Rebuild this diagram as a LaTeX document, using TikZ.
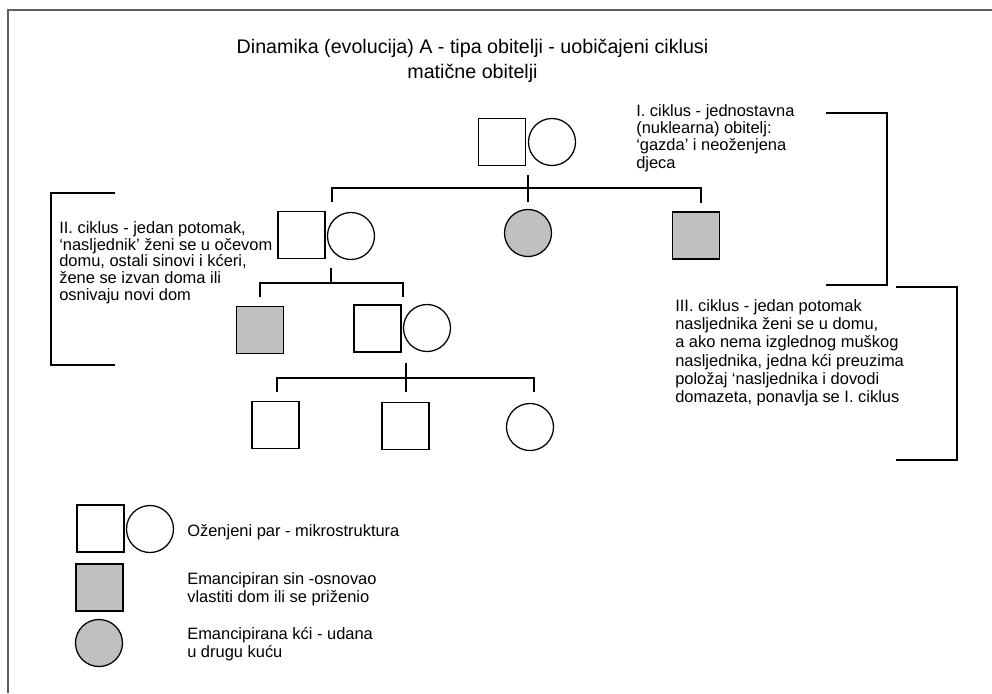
\documentclass[tikz,border=0pt]{standalone}
\usepackage{fontspec}
\setmainfont{Liberation Sans}
\usetikzlibrary{calc}
\definecolor{emgray}{RGB}{192,192,192}
\definecolor{framegray}{RGB}{95,95,95}
\begin{document}
\begin{tikzpicture}[x=0.025cm, y=0.025cm]
\tikzstyle{every node}+=[inner sep=0pt]
\tikzstyle{male}=[draw=black, line width=0.9pt, minimum size=1.175cm]
\tikzstyle{female}=[draw=black, line width=0.9pt, circle, minimum size=1.175cm]
\tikzstyle{emc}=[fill=emgray]
\tikzstyle{kin}=[black, line width=0.9pt]
\tikzstyle{note}=[anchor=north west, align=left, font=\fontsize{11.7}{12.3}\selectfont]
\useasboundingbox (0,0) rectangle (992,-693);
\draw [framegray, line width=1.4pt] (8,-693) -- (8,-10) -- (992,-10);
\node (title) at (472.5,-60.5) [align=center, font=\fontsize{14}{17.7}\selectfont] {Dinamika (evolucija) A - tipa obitelji - uobičajeni ciklusi\\matične obitelji};
\node [male] (m1) at (502,-142) {};
\node [female] (f1) at (552,-142) {};
\node [female, emc] (k1) at (528,-233) {};
\node [male, emc] (s1) at (696,-235.5) {};
\node [male] (m2) at (301.5,-235) {};
\node [female] (f2) at (351,-236) {};
\node [male, emc] (s2) at (260,-330) {};
\node [male] (m3) at (377.5,-328.5) {};
\node [female] (f3) at (427,-328) {};
\node [male] (c1) at (275.5,-425) {};
\node [male] (c2) at (405.5,-426) {};
\node [female] (c3) at (530,-427) {};
\coordinate (p1) at (528,-175);
\coordinate (d1) at (528,-202);
\coordinate (l1) at (332,-188);
\coordinate (r1) at (701,-188);
\draw [kin] (p1) -- (d1);
\draw [kin] ($(l1)+(0,-14)$) -- (l1) -- (r1) -- ($(r1)+(0,-15)$);
\coordinate (p2) at (331,-268);
\coordinate (l2) at (260,-283);
\coordinate (r2) at (403,-283);
\draw [kin] (p2) -- (p2 |- l2);
\draw [kin] ($(l2)+(0,-14)$) -- (l2) -- (r2) -- ($(r2)+(0,-14)$);
\coordinate (p3) at (406,-363);
\coordinate (d3) at (406,-392);
\coordinate (l3) at (277,-378);
\coordinate (r3) at (534,-378);
\draw [kin] (p3) -- (d3);
\draw [kin] ($(l3)+(0,-14)$) -- (l3) -- (r3) -- ($(r3)+(0,-14)$);
\draw [kin] (826,-113) -- (887,-113) -- (887,-285) -- (826,-285);
\draw [kin] (115,-193) -- (51,-193) -- (51,-365) -- (115,-365);
\draw [kin] (896,-287) -- (957,-287) -- (957,-460) -- (896,-460);
\node [note] (n1) at (636,-104) {I. ciklus - jednostavna\\(nuklearna) obitelj:\\‘gazda’ i neoženjena\\djeca};
\node [note, font=\fontsize{11.7}{12}\selectfont] (n2) at (59,-221) {II. ciklus - jedan potomak,\\‘nasljednik’ ženi se u očevom\\domu, ostali sinovi i kćeri,\\žene se izvan doma ili\\osnivaju novi dom};
\node [note, font=\fontsize{11.7}{13}\selectfont] (n3) at (675,-299) {III. ciklus - jedan potomak\\nasljednika ženi se u domu,\\a ako nema izglednog muškog\\nasljednika, jedna kći preuzima\\položaj ‘nasljednika i dovodi\\domazeta, ponavlja se I. ciklus};
\node [male] (lm) at (100.5,-528.5) {};
\node [female] (lf) at (150,-529) {};
\node [male, emc] (ls) at (99.5,-587.5) {};
\node [female, emc] (lk) at (99,-643) {};
\node [note] (t1) at (187,-524) {Oženjeni par - mikrostruktura};
\node [note, font=\fontsize{11.7}{12.8}\selectfont] (t2) at (187,-572) {Emancipiran sin -osnovao\\vlastiti dom ili se priženio};
\node [note, font=\fontsize{11.7}{12.8}\selectfont] (t3) at (187,-627) {Emancipirana kći - udana\\u drugu kuću};
\end{tikzpicture}
\end{document}
